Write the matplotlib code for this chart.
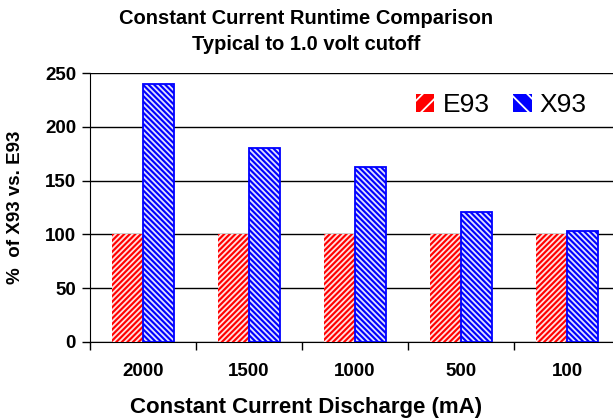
import numpy as np
import matplotlib.pyplot as plt
import matplotlib as mpl
from matplotlib.patches import Patch

plt.rcParams['font.family'] = ['Liberation Sans', 'DejaVu Sans']
mpl.rcParams['hatch.linewidth'] = 1.3

categories = ['2000', '1500', '1000', '500', '100']
e93 = [100, 100, 100, 100, 100]
x93 = [240, 180, 163, 121, 103]

W, H = 613, 418
fig = plt.figure(figsize=(W/100, H/100), dpi=100)
ax = fig.add_axes([90/W, 1 - 342/H, 530/W, 269/H])

x = np.arange(len(categories))
w = 0.29
ax.bar(x - w/2, e93, w, color='#ff0000', edgecolor='#ffe0e0', hatch='//////', linewidth=0, zorder=3)
ax.bar(x + w/2, x93, w, color='#0000ff', edgecolor='#e0e0ff', hatch='\\\\\\\\\\\\', linewidth=0, zorder=3)
ax.bar(x + w/2, x93, w, fill=False, edgecolor='#0000ff', linewidth=1.3, zorder=4)

ax.set_xlim(-0.5, len(categories) - 0.5)
ax.set_ylim(0, 250)
ax.set_yticks(np.arange(0, 251, 50))
ax.yaxis.grid(True, color='black', linewidth=1.0)
ax.set_axisbelow(True)
ax.set_xticks(np.arange(-0.5, len(categories), 1))
ax.set_xticklabels([])
ax.set_xticks(x, minor=True)
ax.set_xticklabels(categories, minor=True, fontsize=13.5, fontweight='bold')
ax.tick_params(axis='x', which='minor', length=0, pad=15)
ax.tick_params(axis='x', which='major', length=6, width=1.0)
ax.tick_params(axis='y', length=6, width=1.0, labelsize=13.5, pad=4)
for t in ax.get_yticklabels():
    t.set_fontweight('bold')
ax.spines['top'].set_visible(False)
ax.spines['right'].set_visible(False)

fig.text(306/W, 1 - 18/H, 'Constant Current Runtime Comparison', ha='center', va='center',
         fontsize=14.5, fontweight='bold')
fig.text(306/W, 1 - 45/H, 'Typical to 1.0 volt cutoff', ha='center', va='center',
         fontsize=14.5, fontweight='bold')
fig.text(16/W, 1 - 207/H, '%  of X93 vs. E93', ha='center', va='center', rotation=90,
         fontsize=13.5, fontweight='bold')
fig.text(306/W, 1 - 407/H, 'Constant Current Discharge (mA)', ha='center', va='center',
         fontsize=16, fontweight='bold')

handles = [Patch(facecolor='#ff0000', edgecolor='white', hatch='//', linewidth=0),
           Patch(facecolor='#0000ff', edgecolor='white', hatch='\\\\', linewidth=0)]
fig.legend(handles, ['E93', 'X93'], loc='center left', bbox_to_anchor=(416/W, 1 - 105/H),
           ncol=2, frameon=False, fontsize=19, handlelength=0.7, handleheight=0.7,
           handletextpad=0.3, columnspacing=0.9, borderpad=0, borderaxespad=0)

fig.savefig('out.png', dpi=100)
